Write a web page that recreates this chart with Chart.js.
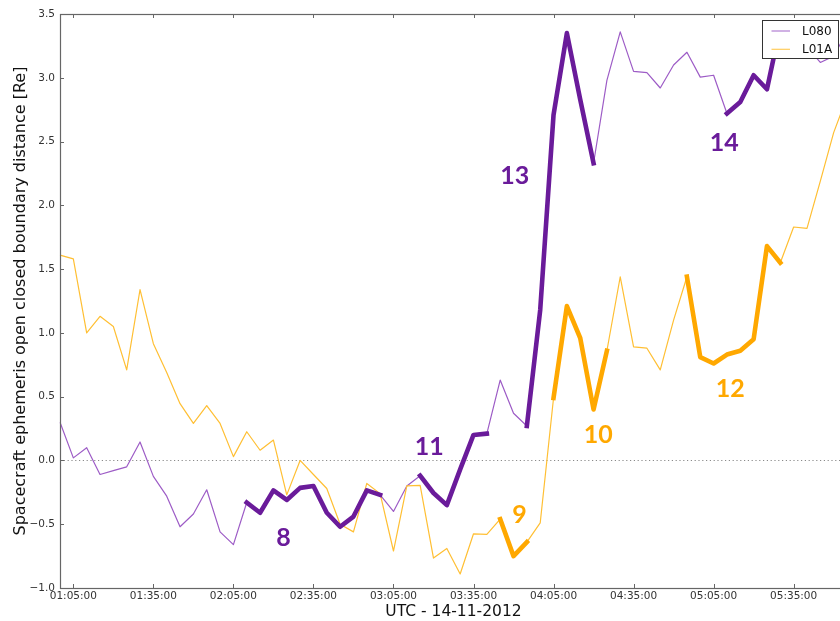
<!DOCTYPE html>
<html>
<head>
<meta charset="utf-8">
<script src="https://cdn.jsdelivr.net/npm/chart.js@4/dist/chart.umd.min.js"></script>
<style>
  html, body { margin: 0; padding: 0; background: #ffffff; overflow: hidden; }
  canvas { display: block; }
</style>
</head>
<body>
<canvas id="chart" width="847" height="621"></canvas>
<script>
// Sample times (UTC, 14-11-2012), one every 5 minutes
const sampleTimes = [
  '01:00:00','01:05:00','01:10:00','01:15:00','01:20:00','01:25:00','01:30:00','01:35:00','01:40:00','01:45:00','01:50:00','01:55:00',
  '02:00:00','02:05:00','02:10:00','02:15:00','02:20:00','02:25:00','02:30:00','02:35:00','02:40:00','02:45:00','02:50:00','02:55:00',
  '03:00:00','03:05:00','03:10:00','03:15:00','03:20:00','03:25:00','03:30:00','03:35:00','03:40:00','03:45:00','03:50:00','03:55:00',
  '04:00:00','04:05:00','04:10:00','04:15:00','04:20:00','04:25:00','04:30:00','04:35:00','04:40:00','04:45:00','04:50:00','04:55:00',
  '05:00:00','05:05:00','05:10:00','05:15:00','05:20:00','05:25:00','05:30:00','05:35:00','05:40:00','05:45:00','05:50:00','05:55:00'
];

// Labelled ticks on the time axis
const tickTimes = ['01:05:00','01:35:00','02:05:00','02:35:00','03:05:00','03:35:00','04:05:00','04:35:00','05:05:00','05:35:00'];

// Open/closed boundary distance [Re] for each spacecraft
const l080 = [
   0.30,  0.02,  0.10, -0.11, -0.08, -0.05,  0.145, -0.125, -0.28, -0.52, -0.42, -0.23,
  -0.56, -0.66, -0.33, -0.41, -0.235, -0.31, -0.215, -0.20, -0.41, -0.52, -0.44, -0.235,
  -0.27, -0.40, -0.20, -0.12, -0.255, -0.35, -0.07,  0.20,  0.21,  0.63,  0.37,  0.27,
   1.18,  2.71,  3.35,  2.83,  2.33,  2.98,  3.36,  3.05,  3.04,  2.92,  3.10,  3.20,
   3.005, 3.02, 2.72,  2.81,  3.02,  2.91,  3.40,  3.30,  3.24,  3.12,  3.17,  3.36
];
const l01a = [
   1.61,  1.58,  1.00,  1.13,  1.05,  0.71,  1.34,  0.915, 0.69,  0.445, 0.29,  0.43,
   0.29,  0.03,  0.225, 0.08,  0.16, -0.27,  0.00, -0.11, -0.22, -0.50, -0.56, -0.18,
  -0.26, -0.71, -0.20, -0.195, -0.765, -0.69, -0.89, -0.575, -0.58, -0.46, -0.75, -0.64,
  -0.49,  0.49,  1.21,  0.96,  0.40,  0.86,  1.44,  0.89,  0.88,  0.71,  1.10,  1.44,
   0.81,  0.76,  0.83,  0.86,  0.95,  1.68,  1.55,  1.83,  1.82,  2.19,  2.57,  2.85
];

// Numbered intervals highlighted on each track
const l080Events = [
  { name: '8',  from: '02:10:00', to: '03:00:00' },
  { name: '11', from: '03:15:00', to: '03:40:00' },
  { name: '13', from: '03:55:00', to: '04:20:00' },
  { name: '14', from: '05:10:00', to: '05:30:00' }
];
const l01aEvents = [
  { name: '9',  from: '03:45:00', to: '03:55:00' },
  { name: '10', from: '04:05:00', to: '04:25:00' },
  { name: '12', from: '04:55:00', to: '05:30:00' }
];

const purpleThin = '#9d5cc6';
const purpleBold = '#6a1b9a';
const orangeThin = '#ffbf33';
const orangeBold = '#ffa800';

// Where each interval number sits: [sample index, distance]
const labelAnchors = {
  '8':  [16.75, -0.60],
  '11': [27.69,  0.11],
  '13': [34.10,  2.24],
  '14': [49.80,  2.50],
  '9':  [34.44, -0.42],
  '10': [40.35,  0.21],
  '12': [50.25,  0.57]
};

function intervalSeries(values, events) {
  const out = values.map(() => null);
  events.forEach(ev => {
    const a = sampleTimes.indexOf(ev.from);
    const b = sampleTimes.indexOf(ev.to);
    for (let i = a; i <= b; i++) out[i] = values[i];
  });
  return out;
}

const decorations = {
  id: 'decorations',
  beforeDatasetsDraw(chart) {
    const { ctx, chartArea: a, scales: { y } } = chart;
    const y0 = Math.round(y.getPixelForValue(0)) + 0.5;
    ctx.save();
    ctx.strokeStyle = '#8a8a8a';
    ctx.lineWidth = 1;
    ctx.setLineDash([1.2, 2.6]);
    ctx.beginPath();
    ctx.moveTo(a.left, y0);
    ctx.lineTo(a.right, y0);
    ctx.stroke();
    ctx.restore();
  },
  afterDatasetsDraw(chart) {
    const { ctx, chartArea: a, scales: { x, y } } = chart;
    ctx.save();

    // interval numbers
    ctx.font = 'bold 25px Lato';
    ctx.textAlign = 'center';
    ctx.textBaseline = 'alphabetic';
    const put = (events, color) => {
      ctx.fillStyle = color;
      events.forEach(ev => {
        const [ix, v] = labelAnchors[ev.name];
        ctx.fillText(ev.name, x.getPixelForValue(ix), y.getPixelForValue(v) + 9);
      });
    };
    put(l080Events, purpleBold);
    put(l01aEvents, orangeBold);

    // axes frame
    ctx.strokeStyle = '#666666';
    ctx.lineWidth = 1.2;
    ctx.strokeRect(a.left + 0.5, a.top + 0.5, a.right - a.left, a.bottom - a.top);

    // inward tick marks
    ctx.lineWidth = 1;
    ctx.beginPath();
    x.ticks.forEach((t, i) => {
      const px = Math.round(x.getPixelForTick(i)) + 0.5;
      ctx.moveTo(px, a.bottom); ctx.lineTo(px, a.bottom - 4);
      ctx.moveTo(px, a.top); ctx.lineTo(px, a.top + 4);
    });
    y.ticks.forEach(t => {
      const py = Math.round(y.getPixelForValue(t.value)) + 0.5;
      ctx.moveTo(a.left, py); ctx.lineTo(a.left + 4, py);
      ctx.moveTo(a.right, py); ctx.lineTo(a.right - 4, py);
    });
    ctx.stroke();

    // legend box
    const bx = a.right - 85, by = a.top + 6, bw = 76, bh = 38;
    ctx.fillStyle = '#ffffff';
    ctx.fillRect(bx, by, bw, bh);
    ctx.strokeStyle = '#333333';
    ctx.lineWidth = 1;
    ctx.strokeRect(bx + 0.5, by + 0.5, bw, bh);
    ctx.font = '12px "DejaVu Sans"';
    ctx.textAlign = 'left';
    ctx.textBaseline = 'middle';
    const entries = chart.data.datasets.filter(d => d.legendEntry);
    entries.forEach((d, i) => {
      const ly = by + 11 + i * 18.3;
      ctx.strokeStyle = d.borderColor;
      ctx.globalAlpha = 0.8;
      ctx.lineWidth = 1.2;
      ctx.beginPath();
      ctx.moveTo(bx + 9.5, ly); ctx.lineTo(bx + 28, ly);
      ctx.stroke();
      ctx.globalAlpha = 1;
      ctx.fillStyle = '#111111';
      ctx.fillText(d.label, bx + 40, ly + 0.5);
    });
    ctx.restore();
  }
};

const axisFont = { family: 'DejaVu Sans', size: 10.5 };

new Chart(document.getElementById('chart'), {
  type: 'line',
  data: {
    labels: sampleTimes,
    datasets: [
      { label: 'L080', data: l080, borderColor: purpleThin, borderWidth: 1.2, order: 3, legendEntry: true },
      { label: 'L01A', data: l01a, borderColor: orangeThin, borderWidth: 1.2, order: 2, legendEntry: true },
      { label: 'L080 intervals', data: intervalSeries(l080, l080Events), borderColor: purpleBold, borderWidth: 4.6, order: 1,
        borderCapStyle: 'square' },
      { label: 'L01A intervals', data: intervalSeries(l01a, l01aEvents), borderColor: orangeBold, borderWidth: 4.6, order: 0,
        borderCapStyle: 'square' }
    ]
  },
  options: {
    responsive: false,
    animation: false,
    devicePixelRatio: 1,
    layout: { padding: { left: 0, right: 0, top: 14, bottom: 0 } },
    elements: {
      point: { radius: 0, hoverRadius: 0 },
      line: { tension: 0, borderJoinStyle: 'round', fill: false }
    },
    plugins: { legend: { display: false }, tooltip: { enabled: false } },
    scales: {
      x: {
        type: 'category',
        grid: { display: false, drawTicks: false },
        border: { display: false },
        ticks: { autoSkip: false, maxRotation: 0, minRotation: 0, padding: 2, color: '#333333', font: axisFont },
        afterBuildTicks: s => { s.ticks = s.ticks.filter(t => tickTimes.includes(sampleTimes[t.value])); },
        afterFit: s => { s.height = 33; },
        title: { display: true, text: 'UTC - 14-11-2012', color: '#111111',
                 font: { family: 'DejaVu Sans', size: 15.5 }, padding: { top: 0, bottom: 0 } }
      },
      y: {
        min: -1,
        max: 3.5,
        grid: { display: false, drawTicks: false },
        border: { display: false },
        ticks: {
          stepSize: 0.5, padding: 5, color: '#333333', font: axisFont,
          callback: v => v.toFixed(1).replace('-', '\u2212')
        },
        afterFit: s => { s.width = 60; },
        title: { display: true, text: 'Spacecraft ephemeris open closed boundary distance [Re]', color: '#111111',
                 font: { family: 'DejaVu Sans', size: 16 }, padding: { top: 11, bottom: 0 } }
      }
    }
  },
  plugins: [decorations]
});
</script>
</body>
</html>
